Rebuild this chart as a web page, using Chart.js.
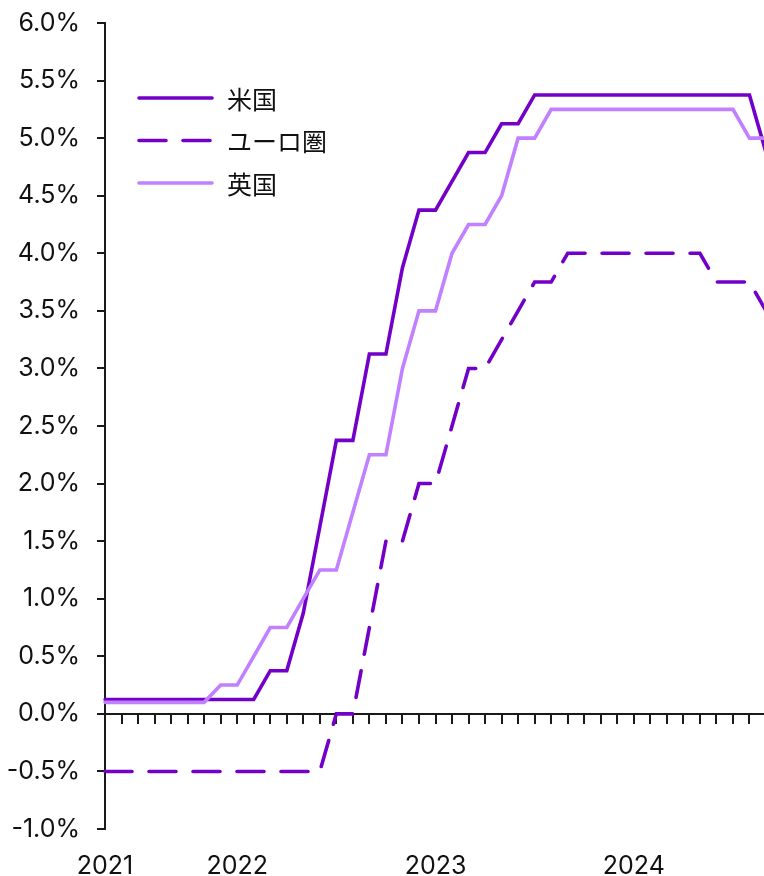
<!DOCTYPE html>
<html>
<head>
<meta charset="utf-8">
<script src="https://cdn.jsdelivr.net/npm/chart.js@4/dist/chart.umd.min.js"></script>
<style>
  html, body { margin: 0; padding: 0; background: #fff; overflow: hidden; }
  #wrap { width: 764px; height: 876px; overflow: hidden; position: relative; }
  #c { display: block; }
</style>
</head>
<body>
<div id="wrap"><canvas id="c" width="766" height="876"></canvas></div>
<script>
// Monthly policy rates (%), May 2021 – Sep 2024
const months = [
  '2021-05','2021-06','2021-07','2021-08','2021-09','2021-10','2021-11','2021-12',
  '2022-01','2022-02','2022-03','2022-04','2022-05','2022-06','2022-07','2022-08',
  '2022-09','2022-10','2022-11','2022-12',
  '2023-01','2023-02','2023-03','2023-04','2023-05','2023-06','2023-07','2023-08',
  '2023-09','2023-10','2023-11','2023-12',
  '2024-01','2024-02','2024-03','2024-04','2024-05','2024-06','2024-07','2024-08',
  '2024-09'
];

// Fed funds target range midpoint
const usRate = [
  0.125,0.125,0.125,0.125,0.125,0.125,0.125,0.125,
  0.125,0.125,0.375,0.375,0.875,1.625,2.375,2.375,
  3.125,3.125,3.875,4.375,
  4.375,4.625,4.875,4.875,5.125,5.125,5.375,5.375,
  5.375,5.375,5.375,5.375,
  5.375,5.375,5.375,5.375,5.375,5.375,5.375,5.375,
  4.875
];

// ECB deposit facility rate
const euroRate = [
  -0.5,-0.5,-0.5,-0.5,-0.5,-0.5,-0.5,-0.5,
  -0.5,-0.5,-0.5,-0.5,-0.5,-0.5,0.0,0.0,
  0.75,1.5,1.5,2.0,
  2.0,2.5,3.0,3.0,3.25,3.5,3.75,3.75,
  4.0,4.0,4.0,4.0,
  4.0,4.0,4.0,4.0,4.0,3.75,3.75,3.75,
  3.5
];

// Bank of England Bank Rate
const ukRate = [
  0.1,0.1,0.1,0.1,0.1,0.1,0.1,0.25,
  0.25,0.5,0.75,0.75,1.0,1.25,1.25,1.75,
  2.25,2.25,3.0,3.5,
  3.5,4.0,4.25,4.25,4.5,5.0,5.0,5.25,
  5.25,5.25,5.25,5.25,
  5.25,5.25,5.25,5.25,5.25,5.25,5.25,5.0,
  5.0
];

const seriesNames = ['米国', 'ユーロ圏', '英国'];

// Y axis range and step (%)
const yMin = -1.0, yMax = 6.0, yStep = 0.5;

const DARK = '#7300C8';
const LIGHT = '#C080FF';
const AXIS = '#1a1a1a';
const LATIN = 'Inter, "Liberation Sans", Arial, sans-serif';
const CJK = '"Noto Sans CJK JP", "Noto Sans", sans-serif';

// Legend drawn inside the plot, top-left, built from the datasets
const insideLegend = {
  id: 'insideLegend',
  afterDatasetsDraw(chart) {
    const ctx = chart.ctx;
    const x0 = 139, x1 = 212, tx = 227;
    const rows = [98, 140.5, 183];
    ctx.save();
    chart.data.datasets.forEach((ds, r) => {
      const y = rows[r];
      ctx.beginPath();
      ctx.strokeStyle = ds.borderColor;
      ctx.lineWidth = ds.borderWidth;
      ctx.lineCap = 'round';
      ctx.setLineDash(ds.borderDash || []);
      ctx.moveTo(x0, y);
      ctx.lineTo(x1, y);
      ctx.stroke();
      ctx.setLineDash([]);
      ctx.fillStyle = '#111';
      ctx.font = '25px ' + CJK;
      ctx.textAlign = 'left';
      ctx.textBaseline = 'middle';
      ctx.fillText(ds.label, tx, y + 1);
    });
    ctx.restore();
  }
};

new Chart(document.getElementById('c'), {
  type: 'line',
  data: {
    labels: months,
    datasets: [
      {
        label: seriesNames[0], data: usRate,
        borderColor: DARK, borderWidth: 3.6, order: 3
      },
      {
        label: seriesNames[1], data: euroRate,
        borderColor: DARK, borderWidth: 3.6, borderDash: [27, 17], order: 2
      },
      {
        label: seriesNames[2], data: ukRate,
        borderColor: LIGHT, borderWidth: 3.6, order: 1
      }
    ]
  },
  options: {
    responsive: false,
    animation: false,
    devicePixelRatio: 1,
    layout: { padding: { top: 23, right: 0, bottom: 0, left: 0 } },
    elements: {
      point: { radius: 0, hoverRadius: 0 },
      line: { tension: 0, fill: false, borderCapStyle: 'round', borderJoinStyle: 'miter' }
    },
    plugins: {
      legend: { display: false },
      tooltip: { enabled: false }
    },
    scales: {
      // zero line with monthly tick marks
      x: {
        type: 'category',
        position: { y: 0 },
        offset: false,
        border: { display: true, color: AXIS, width: 2 },
        grid: { display: true, drawOnChartArea: false, drawTicks: true, tickLength: 9, color: AXIS, lineWidth: 2 },
        ticks: { display: false },
        afterFit: (s) => { s.height = 0; s.paddingLeft = 0; s.paddingRight = 0; }
      },
      // year labels along the bottom
      x2: {
        type: 'category',
        position: 'bottom',
        offset: false,
        border: { display: false },
        grid: { display: false, drawTicks: false },
        ticks: {
          autoSkip: false, maxRotation: 0, minRotation: 0, padding: 22,
          color: '#111',
          font: { family: LATIN, size: 25 },
          callback: (v, i) => (i === 0 || months[i].endsWith('-01')) ? months[i].slice(0, 4) : ''
        },
        afterFit: (s) => { s.height = 47; s.paddingLeft = 0; s.paddingRight = 0; }
      },
      y: {
        min: yMin, max: yMax,
        border: { display: true, color: AXIS, width: 2 },
        grid: { display: true, drawOnChartArea: false, drawTicks: true, tickLength: 8, color: AXIS, lineWidth: 2 },
        ticks: {
          stepSize: yStep, padding: 17, color: '#111',
          font: { family: LATIN, size: 25 },
          callback: (v) => v.toFixed(1) + '%'
        },
        afterFit: (s) => { s.width = 105; s.paddingTop = 0; s.paddingBottom = 0; }
      }
    }
  },
  plugins: [insideLegend]
});
</script>
</body>
</html>
